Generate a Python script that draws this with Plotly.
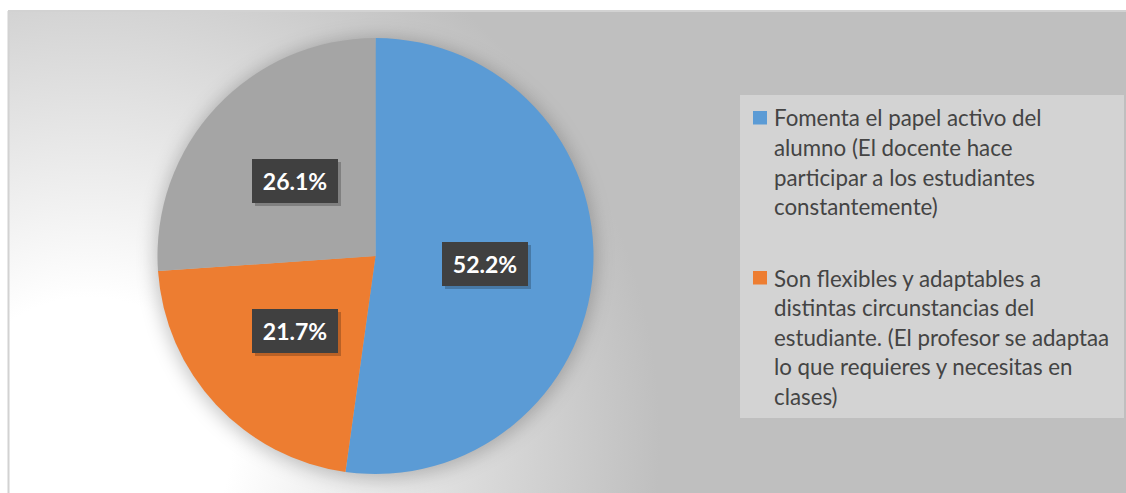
import base64
import math
import plotly.graph_objects as go

# ---------------- data ----------------
categories = [
    "Fomenta el papel activo del alumno (El docente hace participar a los estudiantes constantemente)",
    "Son flexibles y adaptables a distintas circunstancias del estudiante. (El profesor se adaptaa lo que requieres y necesitas en clases)",
    "Otros",
]
values = [52.2, 21.7, 26.1]
value_labels = ["52.2%", "21.7%", "26.1%"]
legend_lines_1 = [
    "Fomenta el papel activo del",
    "alumno (El docente hace",
    "participar a los estudiantes",
    "constantemente)",
]
legend_lines_2 = [
    "Son flexibles y adaptables a",
    "distintas circunstancias del",
    "estudiante. (El profesor se adaptaa",
    "lo que requieres y necesitas en",
    "clases)",
]
colors = ["#5B9BD5", "#ED7D31", "#A5A5A5"]

# ---------------- geometry ----------------
W, H = 1126, 493
CX, CY, R = 375.5, 256.0, 218.0  # pie centre / radius in pixels (from top-left)


def px(x):
    return x / W


def py(y):
    return 1 - y / H


# background: radial gradient + soft pie shadow as an inline SVG
svg = f"""<svg xmlns='http://www.w3.org/2000/svg' width='{W}' height='{H}' viewBox='0 0 {W} {H}'>
<defs>
<radialGradient id='g' gradientUnits='userSpaceOnUse' cx='90' cy='440' r='570'>
<stop offset='0' stop-color='#ffffff'/>
<stop offset='0.25' stop-color='#ffffff'/>
<stop offset='1' stop-color='#bfbfbf'/>
</radialGradient>
<filter id='b' x='-30%' y='-30%' width='160%' height='160%'>
<feGaussianBlur stdDeviation='9'/>
</filter>
</defs>
<rect x='0' y='0' width='{W}' height='{H}' fill='#ffffff'/>
<rect x='9' y='11' width='{W}' height='{H}' fill='url(#g)'/>
<circle cx='{CX}' cy='{CY + 2}' r='{R + 3}' fill='#000000' fill-opacity='0.22' filter='url(#b)'/>
</svg>"""
bg_src = "data:image/svg+xml;base64," + base64.b64encode(svg.encode()).decode()

fig = go.Figure()
fig.add_trace(
    go.Pie(
        labels=categories,
        values=values,
        sort=False,
        direction="clockwise",
        rotation=0,
        marker=dict(colors=colors, line=dict(width=0)),
        textinfo="none",
        hoverinfo="label+percent",
        showlegend=False,
        domain=dict(x=[px(CX - R), px(CX + R)], y=[py(CY + R), py(CY - R)]),
    )
)

annotations = []
total = sum(values)
cum = 0.0
for v, lab in zip(values, value_labels):
    mid = (cum + v / 2) / total * 2 * math.pi
    cum += v
    lx = CX + 0.505 * R * math.sin(mid)
    ly = CY - 0.505 * R * math.cos(mid)
    # shadow
    annotations.append(dict(
        x=px(lx + 3), y=py(ly + 3), xref="paper", yref="paper", text=" ",
        xanchor="center", yanchor="middle",
        showarrow=False, bgcolor="rgba(0,0,0,0.22)", width=84, height=42,
        borderpad=1, borderwidth=0, font=dict(size=22),
    ))
    annotations.append(dict(
        x=px(lx), y=py(ly), xref="paper", yref="paper", text=f"<b>{lab}</b>",
        xanchor="center", yanchor="middle",
        showarrow=False, bgcolor="#404040", width=84, height=42,
        borderpad=1, borderwidth=0,
        font=dict(family="Lato", size=23, color="#ffffff"),
    ))

# manual legend + chart-area border (top and left edges only; the rest is cropped)
shapes = [
    dict(type="rect", xref="paper", yref="paper", x0=px(740), x1=px(1124),
         y0=py(418), y1=py(95), fillcolor="#d3d3d3", line=dict(width=0), layer="below"),
    dict(type="line", xref="paper", yref="paper", x0=px(8), x1=1,
         y0=py(11), y1=py(11), line=dict(color="#d2d2d2", width=2)),
    dict(type="line", xref="paper", yref="paper", x0=px(8.5), x1=px(8.5),
         y0=py(11), y1=0, line=dict(color="#d2d2d2", width=2)),
]
LINE = 29.5
for lines, base, col in ((legend_lines_1, 125.0, colors[0]), (legend_lines_2, 285.0, colors[1])):
    shapes.append(dict(type="rect", xref="paper", yref="paper", x0=px(753), x1=px(767),
                       y0=py(base - 0.5), y1=py(base - 14), fillcolor=col,
                       line=dict(width=0)))
    for i, t in enumerate(lines):
        annotations.append(dict(
            x=px(772), y=py(base + i * LINE - 7), xref="paper", yref="paper",
            xanchor="left", yanchor="middle", text=t, showarrow=False,
            font=dict(family="Lato", size=22.3, color="#444444"),
        ))

fig.update_layout(
    width=W, height=H,
    margin=dict(l=0, r=0, t=0, b=0),
    paper_bgcolor="#ffffff",
    plot_bgcolor="rgba(0,0,0,0)",
    images=[dict(source=bg_src, xref="paper", yref="paper", x=0, y=1,
                 sizex=1, sizey=1, sizing="stretch", layer="below",
                 xanchor="left", yanchor="top")],
    shapes=shapes,
    annotations=annotations,
)

fig.write_html(
    "out.html",
    config={"displayModeBar": False},
    post_script="document.body.style.margin='0';document.body.style.overflow='hidden';",
)
